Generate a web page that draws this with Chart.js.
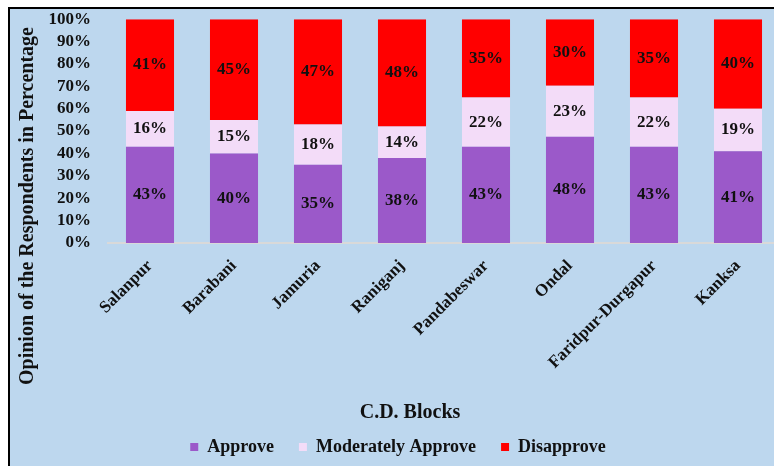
<!DOCTYPE html>
<html><head><meta charset="utf-8">
<script src="https://cdn.jsdelivr.net/npm/chart.js@4/dist/chart.umd.min.js"></script>
<style>
html,body{margin:0;padding:0;background:#fff;overflow:hidden;width:774px;height:466px;}
#frame{position:absolute;left:8px;top:7px;width:800px;height:500px;border-left:2px solid #000;border-top:2px solid #000;background:#bdd7ee;}
#c{position:absolute;left:0;top:0;}
</style></head><body>
<div id="frame"></div>
<canvas id="c" width="790" height="466"></canvas>
<script>
const categories = ['Salanpur','Barabani','Jamuria','Raniganj','Pandabeswar','Ondal','Faridpur-Durgapur','Kanksa'];
const approve = [43,40,35,38,43,48,43,41];
const moderate = [16,15,18,14,22,23,22,19];
const disapprove = [41,45,47,48,35,30,35,40];
const seriesNames = ['Approve','Moderately Approve','Disapprove'];
const yTickLabels = ['0%','10%','20%','30%','40%','50%','60%','70%','80%','90%','100%'];
const xTitle = 'C.D. Blocks';
const yTitle = 'Opinion of the Respondents in Percentage';

const FONT = "'Liberation Serif','Times New Roman',serif";
const raw = [approve, moderate, disapprove];
const totals = categories.map((_, i) => approve[i] + moderate[i] + disapprove[i]);
const pct = arr => arr.map((v, i) => v / totals[i] * 100);
const colors = ['#9b59c9', '#f3dcf8', '#ff0000'];

const labelPlugin = {
  id: 'segLabels',
  afterDatasetsDraw(chart) {
    const ctx = chart.ctx;
    ctx.save();
    ctx.font = 'bold 17px ' + FONT;
    ctx.fillStyle = '#111';
    ctx.textAlign = 'center';
    ctx.textBaseline = 'middle';
    chart.data.datasets.forEach((ds, di) => {
      const meta = chart.getDatasetMeta(di);
      meta.data.forEach((el, i) => {
        ctx.fillText(raw[di][i] + '%', el.x, (el.y + el.base) / 2);
      });
    });
    ctx.restore();
  },
  afterDraw(chart) {
    const ctx = chart.ctx;
    ctx.save();
    ctx.font = 'bold 20px ' + FONT;
    ctx.fillStyle = '#111';
    ctx.textAlign = 'center';
    ctx.textBaseline = 'middle';
    ctx.fillText(xTitle, 410, 413);
    ctx.translate(28, 206);
    ctx.rotate(-Math.PI / 2);
    ctx.fillText(yTitle, 0, 0);
    ctx.restore();
  }
};

new Chart(document.getElementById('c'), {
  type: 'bar',
  data: {
    labels: categories,
    datasets: seriesNames.map((n, k) => ({
      label: n,
      data: pct(raw[k]),
      backgroundColor: colors[k],
      borderWidth: 0,
      barPercentage: 0.572,
      categoryPercentage: 1
    }))
  },
  options: {
    responsive: false,
    animation: false,
    devicePixelRatio: 1,
    layout: { padding: { top: 10, right: 10, left: 16, bottom: 0 } },
    plugins: {
      tooltip: { enabled: false },
      legend: {
        position: 'bottom',
        maxHeight: 53,
        labels: {
          boxWidth: 8, boxHeight: 8, padding: 25,
          color: '#111',
          font: { family: FONT, size: 18, weight: 'bold' }
        }
      }
    },
    scales: {
      x: {
        stacked: true,
        grid: { display: false },
        border: { display: true, color: '#d9d9d9', width: 2 },
        ticks: {
          color: '#111', minRotation: 45, maxRotation: 45, padding: 5,
          font: { family: FONT, size: 17, weight: 'bold' }
        },
        afterFit(s) {
          const lh = s.chart.legend ? s.chart.legend.height : 53;
          s.height = s.chart.height - 243 - lh;
        }
      },
      y: {
        stacked: true,
        min: 0, max: 100,
        grid: { display: false },
        border: { display: false },
        ticks: {
          stepSize: 10, padding: 9, color: '#111', autoSkip: false,
          font: { family: FONT, size: 17, weight: 'bold' },
          callback: (v, i) => yTickLabels[i]
        },
        afterFit(s) { s.width = 92; }
      }
    }
  },
  plugins: [labelPlugin]
});
</script>
</body></html>
